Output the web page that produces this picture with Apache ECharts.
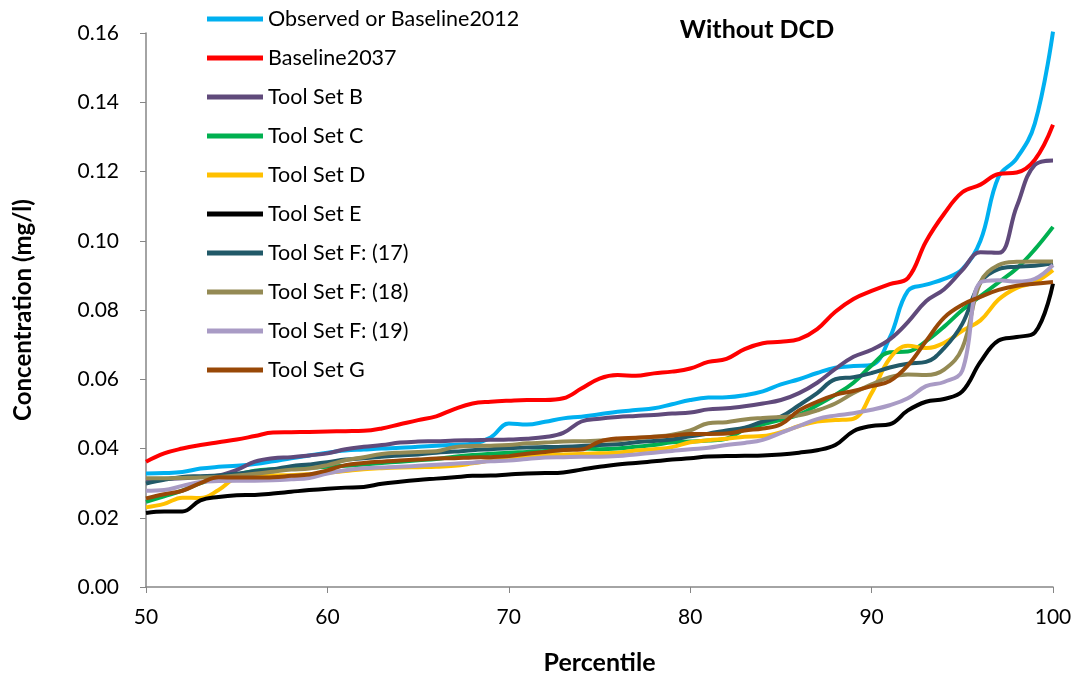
<!DOCTYPE html>
<html>
<head>
<meta charset="utf-8">
<script src="https://cdn.jsdelivr.net/npm/echarts@6/dist/echarts.min.js"></script>
<style>
  html, body { margin: 0; padding: 0; background: #fff; }
  #chart { width: 1079px; height: 680px; }
</style>
</head>
<body>
<div id="chart"></div>
<script>
// percentiles on the x axis
const percentiles = [50, 51, 52, 53, 54, 55, 56, 57, 58, 59,
  60, 61, 62, 63, 64, 65, 66, 67, 68, 69,
  70, 71, 72, 73, 74, 75, 76, 77, 78, 79,
  80, 81, 82, 83, 84, 85, 86, 87, 88, 89,
  90, 91, 92, 93, 94, 95, 96, 97, 98, 99, 100];

const observed = [.0328, .0329, .0332, .0342, .0347, .0350, .0355, .0363, .0372, .0380,
  .0388, .0394, .0397, .0400, .0402, .0405, .0408, .0411, .0414, .0432,
  .0472, .0469, .0477, .0487, .0492, .0499, .0506, .0511, .0516, .0528,
  .0540, .0547, .0548, .0554, .0565, .0585, .0600, .0618, .0633, .0638,
  .0641, .0720, .0855, .0873, .0890, .0918, .1000, .1185, .1238, .1339, .1604];

const baseline2037 = [.0362, .0386, .0400, .0410, .0418, .0426, .0436, .0446, .0447, .0448,
  .0449, .0450, .0451, .0458, .0470, .0482, .0493, .0514, .0530, .0535,
  .0538, .0540, .0540, .0545, .0573, .0602, .0612, .0610, .0617, .0622,
  .0631, .0650, .0659, .0687, .0704, .0708, .0716, .0745, .0795, .0832,
  .0855, .0875, .0892, .0998, .1078, .1140, .1162, .1193, .1197, .1234, .1335];

const toolSetB = [.0310, .0312, .0314, .0318, .0322, .0338, .0362, .0372, .0375, .0380,
  .0386, .0398, .0405, .0410, .0417, .0420, .0421, .0423, .0424, .0425,
  .0426, .0428, .0433, .0445, .0478, .0486, .0491, .0494, .0497, .0501,
  .0504, .0513, .0516, .0522, .0530, .0540, .0560, .0590, .0630, .0665,
  .0685, .0715, .0765, .0825, .0860, .0915, .0967, .0965, .1099, .1219, .1232];

const toolSetC = [.0246, .0262, .0278, .0300, .0315, .0325, .0336, .0340, .0342, .0345,
  .0347, .0350, .0354, .0358, .0362, .0366, .0370, .0376, .0381, .0385,
  .0388, .0390, .0393, .0396, .0400, .0398, .0400, .0405, .0410, .0418,
  .0420, .0423, .0428, .0455, .0470, .0483, .0498, .0525, .0555, .0590,
  .0640, .0678, .0680, .0710, .0752, .0800, .0840, .0880, .0920, .0975, .1040];

const toolSetD = [.0230, .0240, .0258, .0257, .0280, .0315, .0320, .0322, .0323, .0326,
  .0330, .0335, .0340, .0343, .0345, .0346, .0347, .0350, .0357, .0365,
  .0372, .0378, .0381, .0383, .0384, .0386, .0388, .0394, .0398, .0404,
  .0418, .0424, .0428, .0434, .0436, .0447, .0465, .0478, .0482, .0486,
  .0560, .0660, .0697, .0690, .0705, .0740, .0770, .0830, .0864, .0880, .0915];

const toolSetE = [.0214, .0218, .0218, .0250, .0260, .0265, .0266, .0270, .0275, .0280,
  .0284, .0287, .0289, .0298, .0304, .0309, .0313, .0317, .0321, .0322,
  .0325, .0328, .0329, .0331, .0339, .0347, .0354, .0358, .0363, .0368,
  .0372, .0377, .0378, .0379, .0380, .0383, .0388, .0395, .0410, .0450,
  .0465, .0470, .0510, .0535, .0543, .0565, .0650, .0712, .0722, .0735, .0876];

const toolSetF17 = [.0299, .0310, .0318, .0320, .0322, .0327, .0334, .0340, .0349, .0354,
  .0360, .0368, .0372, .0376, .0380, .0383, .0388, .0391, .0395, .0398,
  .0401, .0403, .0404, .0405, .0407, .0410, .0412, .0418, .0422, .0426,
  .0435, .0443, .0452, .0460, .0478, .0492, .0525, .0560, .0600, .0606,
  .0618, .0634, .0645, .0650, .0690, .0760, .0880, .0918, .0925, .0928, .0935];

const toolSetF18 = [.0314, .0314, .0315, .0316, .0318, .0322, .0327, .0333, .0339, .0342,
  .0352, .0366, .0375, .0384, .0388, .0390, .0392, .0404, .0407, .0408,
  .0410, .0415, .0417, .0420, .0421, .0423, .0424, .0430, .0434, .0440,
  .0452, .0473, .0476, .0484, .0488, .0491, .0496, .0510, .0530, .0560,
  .0585, .0606, .0614, .0612, .0628, .0690, .0880, .0930, .0939, .0940, .0940];

const toolSetF19 = [.0278, .0280, .0292, .0303, .0306, .0307, .0307, .0308, .0311, .0315,
  .0328, .0337, .0343, .0345, .0347, .0350, .0353, .0356, .0359, .0363,
  .0365, .0370, .0374, .0375, .0376, .0376, .0378, .0383, .0388, .0393,
  .0398, .0402, .0410, .0416, .0425, .0445, .0465, .0485, .0495, .0502,
  .0512, .0525, .0545, .0580, .0592, .0625, .0880, .0886, .0882, .0890, .0930];

const toolSetG = [.0256, .0268, .0278, .0300, .0317, .0316, .0316, .0317, .0321, .0325,
  .0337, .0352, .0358, .0362, .0365, .0368, .0371, .0372, .0374, .0375,
  .0378, .0385, .0390, .0396, .0397, .0420, .0429, .0431, .0434, .0437,
  .0442, .0442, .0443, .0452, .0458, .0470, .0510, .0535, .0555, .0566,
  .0580, .0595, .0640, .0710, .0778, .0815, .0838, .0858, .0870, .0876, .0881];

const yTicks = [0, 0.02, 0.04, 0.06, 0.08, 0.10, 0.12, 0.14, 0.16];

const seriesList = [
  { name: 'Observed or Baseline2012', values: observed, color: '#00B0F0' },
  { name: 'Baseline2037', values: baseline2037, color: '#FF0000' },
  { name: 'Tool Set B', values: toolSetB, color: '#604A7B' },
  { name: 'Tool Set C', values: toolSetC, color: '#00B050' },
  { name: 'Tool Set D', values: toolSetD, color: '#FFC000' },
  { name: 'Tool Set E', values: toolSetE, color: '#000000' },
  { name: 'Tool Set F: (17)', values: toolSetF17, color: '#215968' },
  { name: 'Tool Set F: (18)', values: toolSetF18, color: '#948A54' },
  { name: 'Tool Set F: (19)', values: toolSetF19, color: '#A99BC5' },
  { name: 'Tool Set G', values: toolSetG, color: '#984807' }
];

const FONT = 'Lato, "Open Sans", sans-serif';
const chart = echarts.init(document.getElementById('chart'));

chart.setOption({
  animation: false,
  backgroundColor: '#fff',
  title: {
    text: 'Without DCD',
    left: 752,
    top: 12,
    textAlign: 'center',
    textStyle: { fontFamily: FONT, fontSize: 25, fontWeight: 'bold', color: '#000' }
  },
  legend: {
    orient: 'vertical',
    left: 202,
    top: 3,
    icon: 'rect',
    itemWidth: 56,
    itemHeight: 5,
    itemGap: 17,
    textStyle: { fontFamily: FONT, fontSize: 21.5, lineHeight: 20, color: '#000' },
    data: seriesList.map(s => s.name)
  },
  grid: { left: 146, right: 26, top: 33, bottom: 93, containLabel: false },
  xAxis: {
    type: 'value',
    min: 50,
    max: 100,
    interval: 10,
    name: 'Percentile',
    nameLocation: 'middle',
    nameGap: 63,
    nameTextStyle: { fontFamily: FONT, fontSize: 25, fontWeight: 'bold', color: '#000' },
    axisLine: { show: true, lineStyle: { color: '#868686', width: 1.5 } },
    axisTick: { show: true, inside: false, length: 6, lineStyle: { color: '#868686' } },
    axisLabel: { fontFamily: FONT, fontSize: 21, color: '#000', margin: 20 },
    splitLine: { show: false }
  },
  yAxis: {
    type: 'value',
    min: yTicks[0],
    max: yTicks[yTicks.length - 1],
    interval: 0.02,
    name: 'Concentration (mg/l)',
    nameLocation: 'middle',
    nameGap: 111,
    nameTextStyle: { fontFamily: FONT, fontSize: 24, fontWeight: 'bold', color: '#000' },
    axisLine: { show: true, lineStyle: { color: '#868686', width: 1.5 } },
    axisTick: { show: true, inside: false, length: 6, lineStyle: { color: '#868686' } },
    axisLabel: {
      fontFamily: FONT, fontSize: 21, color: '#000', margin: 27,
      formatter: v => v.toFixed(2)
    },
    splitLine: { show: false }
  },
  series: seriesList.map(s => ({
    name: s.name,
    type: 'line',
    smooth: 0.4,
    showSymbol: false,
    symbol: 'none',
    color: s.color,
    lineStyle: { width: 4, color: s.color },
    data: percentiles.map((p, i) => [p, s.values[i]])
  }))
});
</script>
</body>
</html>
